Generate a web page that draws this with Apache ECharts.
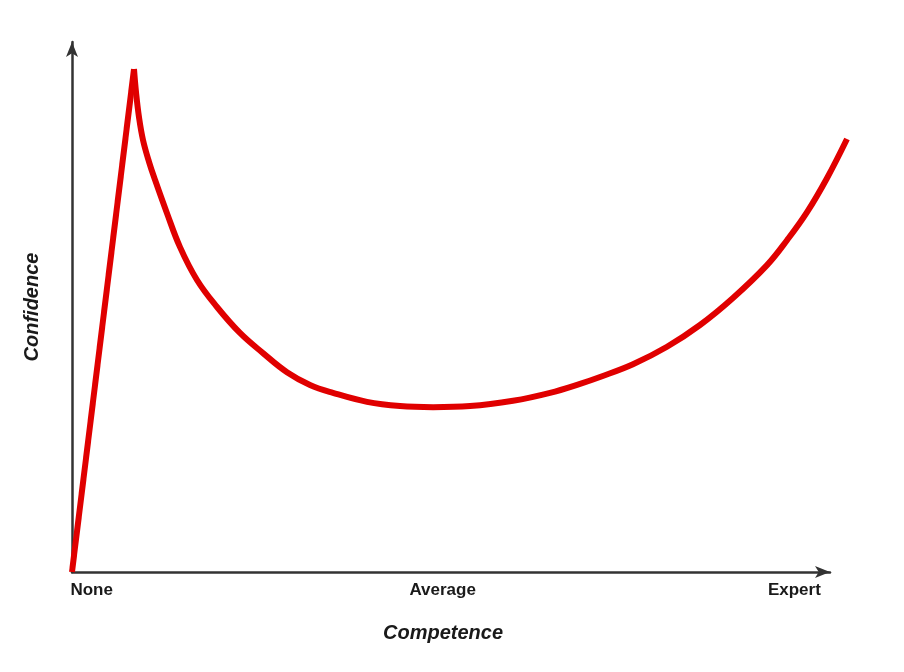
<!DOCTYPE html>
<html>
<head>
<meta charset="utf-8">
<script src="https://cdn.jsdelivr.net/npm/echarts@6/dist/echarts.min.js"></script>
<style>
html,body{margin:0;padding:0;background:#fff;}
#chart{width:904px;height:672px;}
</style>
</head>
<body>
<div id="chart"></div>
<script>
// Competence (0-100, curve runs a little past the axis arrow) vs Confidence (0-100)
const ascentPoints = [[0, 0], [8.18, 94.9]];
const curvePoints = [
  [8.18, 94.9], [8.44, 90.6], [8.84, 85.8], [9.37, 81.5], [10.16, 77.4],
  [10.95, 74.0], [12.53, 67.7], [14.25, 61.3], [16.49, 55.1], [19.13, 50.0],
  [22.16, 45.1], [25.20, 41.3], [28.36, 37.7], [31.40, 35.3], [34.43, 33.8],
  [38.92, 32.1], [43.27, 31.3], [47.63, 31.1], [52.51, 31.3], [58.18, 32.3],
  [63.06, 33.8], [67.02, 35.5], [69.66, 36.8], [74.01, 39.2], [78.50, 42.5],
  [82.85, 46.6], [87.20, 51.7], [91.69, 57.9], [94.33, 62.6], [96.97, 67.9],
  [99.60, 74.3], [102.24, 81.7]
];
const tickValues = [2.6, 48.9, 95.3];
const tickLabels = ['None', 'Average', 'Expert'];
const xTitle = 'Competence';
const yTitle = 'Confidence';

const chart = echarts.init(document.getElementById('chart'));
const red = '#e00000';
const lineW = 6;
const axisColor = '#333333';
const textColor = '#1a1a1a';
const font = 'Liberation Sans';
chart.setOption({
  animation: false,
  backgroundColor: '#fff',
  grid: [
    // data grid: same scale as the axes, extended to the right so the curve can pass the arrow
    { left: 72, right: 904 - 72 - 103 * 7.58, top: 42, bottom: 100 },
    // axes grid
    { left: 72, right: 74, top: 42, bottom: 100 }
  ],
  xAxis: [
    { gridIndex: 0, type: 'value', min: 0, max: 103, show: false },
    {
      gridIndex: 1, type: 'value', min: 0, max: 100,
      name: xTitle, nameLocation: 'middle', nameGap: 51,
      nameTextStyle: { fontFamily: font, fontSize: 20, fontWeight: 'bold', fontStyle: 'italic', color: textColor, padding: [0, 16, 0, 0] },
      axisLine: { show: true, onZero: false, symbol: ['none', 'arrow'], symbolSize: [9, 15], lineStyle: { color: axisColor, width: 2.5 } },
      axisTick: { show: false },
      splitLine: { show: false },
      axisLabel: {
        customValues: tickValues,
        formatter: function (v) { const i = tickValues.indexOf(v); return i >= 0 ? tickLabels[i] : ''; },
        margin: 10, fontFamily: font, fontSize: 17, fontWeight: 'bold', color: textColor
      }
    }
  ],
  yAxis: [
    { gridIndex: 0, type: 'value', min: 0, max: 100, show: false },
    {
      gridIndex: 1, type: 'value', min: 0, max: 100,
      name: yTitle, nameLocation: 'middle', nameGap: 30,
      nameTextStyle: { fontFamily: font, fontSize: 20, fontWeight: 'bold', fontStyle: 'italic', color: textColor },
      axisLine: { show: true, onZero: false, symbol: ['none', 'arrow'], symbolSize: [9, 15], lineStyle: { color: axisColor, width: 2.5 } },
      axisTick: { show: false },
      splitLine: { show: false },
      axisLabel: { show: false }
    }
  ],
  series: [
    { type: 'line', xAxisIndex: 0, yAxisIndex: 0, data: ascentPoints, showSymbol: false, z: 3,
      lineStyle: { color: red, width: lineW, cap: 'butt', join: 'miter' } },
    { type: 'line', xAxisIndex: 0, yAxisIndex: 0, data: curvePoints, showSymbol: false,
      smooth: 0.4, z: 3,
      lineStyle: { color: red, width: lineW, cap: 'butt' } }
  ]
});
</script>
</body>
</html>
